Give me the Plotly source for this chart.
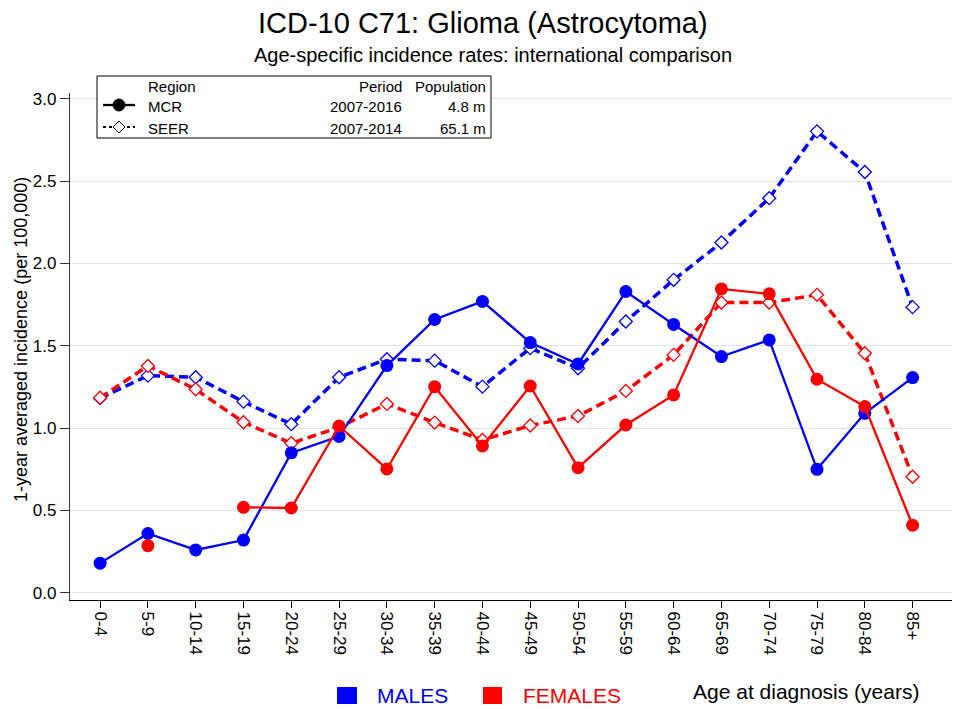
import plotly.graph_objects as go

age_groups = ["0-4", "5-9", "10-14", "15-19", "20-24", "25-29", "30-34", "35-39",
              "40-44", "45-49", "50-54", "55-59", "60-64", "65-69", "70-74",
              "75-79", "80-84", "85+"]

mcr_males = [0.18, 0.36, 0.26, 0.32, 0.85, 0.95, 1.38, 1.66, 1.77, 1.52, 1.39,
             1.83, 1.63, 1.435, 1.536, 0.75, 1.09, 1.307]
mcr_females = [None, 0.286, None, 0.519, 0.515, 1.013, 0.752, 1.252, 0.892, 1.256,
               0.76, 1.019, 1.202, 1.846, 1.816, 1.297, 1.131, 0.41]
seer_males = [1.182, 1.319, 1.309, 1.161, 1.024, 1.309, 1.419, 1.41, 1.252, 1.486,
              1.364, 1.648, 1.901, 2.128, 2.397, 2.803, 2.556, 1.735]
seer_females = [1.185, 1.378, 1.236, 1.036, 0.908, 1.005, 1.147, 1.034, 0.928, 1.016,
                1.074, 1.226, 1.445, 1.763, 1.763, 1.81, 1.455, 0.705]

y_ticks = [0.0, 0.5, 1.0, 1.5, 2.0, 2.5, 3.0]

legend_rows = [("MCR", "2007-2016", "4.8 m"), ("SEER", "2007-2014", "65.1 m")]

BLUE = "#0000ff"
RED = "#ff0000"
FONT = "Liberation Sans"

x_idx = list(range(len(age_groups)))

fig = go.Figure()

for vals, col in [(seer_males, BLUE), (seer_females, RED)]:
    fig.add_trace(go.Scatter(
        x=x_idx, y=vals, mode="lines+markers",
        line=dict(color=col, width=3.5, dash="9px,5px"),
        marker=dict(symbol="diamond", size=10, color="white",
                    line=dict(color=col, width=1.3)),
        showlegend=False, hoverinfo="skip"))

for vals, col in [(mcr_males, BLUE), (mcr_females, RED)]:
    fig.add_trace(go.Scatter(
        x=x_idx, y=vals, mode="lines+markers",
        line=dict(color=col, width=2.3),
        marker=dict(symbol="circle", size=13, color=col),
        connectgaps=False, showlegend=False, hoverinfo="skip"))

shapes = []
annotations = []

# page body has an 8px margin; the figure is sized so the plot area lands
# on these screen pixels
OFF = 8
L, R, T, B = 70, 958, 93, 600


def pxx(p):
    return (p - L) / (R - L)


def pxy(p):
    return (B - p) / (B - T)


# Legend box (top-left)
shapes.append(dict(type="rect", xref="paper", yref="paper",
                   x0=pxx(97), x1=pxx(491), y0=pxy(138), y1=pxy(76),
                   line=dict(color="black", width=1), fillcolor="white"))
shapes.append(dict(type="line", xref="paper", yref="paper",
                   x0=pxx(103), x1=pxx(135), y0=pxy(105), y1=pxy(105),
                   line=dict(color="black", width=2.3)))
shapes.append(dict(type="circle", xref="paper", yref="paper",
                   x0=pxx(113), x1=pxx(125), y0=pxy(111), y1=pxy(99),
                   line=dict(color="black", width=1), fillcolor="black"))
shapes.append(dict(type="line", xref="paper", yref="paper",
                   x0=pxx(103), x1=pxx(135), y0=pxy(127), y1=pxy(127),
                   line=dict(color="black", width=2, dash="dot")))
shapes.append(dict(type="path", xref="paper", yref="paper",
                   path="M {} {} L {} {} L {} {} L {} {} Z".format(
                       pxx(119), pxy(121), pxx(125), pxy(127),
                       pxx(119), pxy(133), pxx(113), pxy(127)),
                   line=dict(color="black", width=1), fillcolor="white"))

lf = dict(family=FONT, size=15, color="black")
annotations.append(dict(xref="paper", yref="paper", x=pxx(146), y=pxy(87),
                        text="Region", showarrow=False, xanchor="left", yanchor="middle", font=lf))
annotations.append(dict(xref="paper", yref="paper", x=pxx(404), y=pxy(87),
                        text="Period", showarrow=False, xanchor="right", yanchor="middle", font=lf))
annotations.append(dict(xref="paper", yref="paper", x=pxx(488), y=pxy(87),
                        text="Population", showarrow=False, xanchor="right", yanchor="middle", font=lf))
for i, (reg, per, pop) in enumerate(legend_rows):
    yy = pxy(106 + 22 * i)
    annotations.append(dict(xref="paper", yref="paper", x=pxx(146), y=yy, text=reg,
                            showarrow=False, xanchor="left", yanchor="middle", font=lf))
    annotations.append(dict(xref="paper", yref="paper", x=pxx(404), y=yy, text=per,
                            showarrow=False, xanchor="right", yanchor="middle", font=lf))
    annotations.append(dict(xref="paper", yref="paper", x=pxx(488), y=yy, text=pop,
                            showarrow=False, xanchor="right", yanchor="middle", font=lf))

# Bottom legend
shapes.append(dict(type="rect", xref="paper", yref="paper",
                   x0=pxx(337), x1=pxx(357), y0=pxy(704), y1=pxy(687),
                   line=dict(width=0), fillcolor=BLUE))
shapes.append(dict(type="rect", xref="paper", yref="paper",
                   x0=pxx(483), x1=pxx(502), y0=pxy(704), y1=pxy(687),
                   line=dict(width=0), fillcolor=RED))
annotations.append(dict(xref="paper", yref="paper", x=pxx(375), y=pxy(695), text="MALES",
                        showarrow=False, xanchor="left", yanchor="middle",
                        font=dict(family=FONT, size=21, color=BLUE)))
annotations.append(dict(xref="paper", yref="paper", x=pxx(521), y=pxy(695), text="FEMALES",
                        showarrow=False, xanchor="left", yanchor="middle",
                        font=dict(family=FONT, size=21, color=RED)))
annotations.append(dict(xref="paper", yref="paper", x=pxx(921), y=pxy(691),
                        text="Age at diagnosis (years)", showarrow=False,
                        xanchor="right", yanchor="middle",
                        font=dict(family=FONT, size=21, color="black")))

# Titles
annotations.append(dict(xref="paper", yref="paper", x=pxx(483), y=pxy(23),
                        text="ICD-10 C71: Glioma (Astrocytoma)", showarrow=False,
                        xanchor="center", yanchor="middle",
                        font=dict(family=FONT, size=29, color="black")))
annotations.append(dict(xref="paper", yref="paper", x=pxx(493), y=pxy(55),
                        text="Age-specific incidence rates: international comparison",
                        showarrow=False, xanchor="center", yanchor="middle",
                        font=dict(family=FONT, size=20, color="black")))
annotations.append(dict(xref="paper", yref="paper", x=pxx(21), y=pxy(340),
                        text="1-year averaged incidence (per 100,000)", showarrow=False,
                        textangle=-90, xanchor="center", yanchor="middle",
                        font=dict(family=FONT, size=18, color="black")))

fig.update_layout(
    width=960 - OFF, height=709 - OFF,
    margin=dict(l=L - OFF, r=960 - R, t=T - OFF, b=709 - B, autoexpand=False),
    paper_bgcolor="white", plot_bgcolor="white",
    font=dict(family=FONT, size=16, color="black"),
    shapes=shapes, annotations=annotations,
    xaxis=dict(range=[-0.63, 17.95], tickmode="array", tickvals=x_idx,
               ticktext=age_groups, tickangle=90, showgrid=False, zeroline=False,
               showline=True, linecolor="black", linewidth=1.3,
               ticks="outside", ticklen=7, tickcolor="black",
               tickfont=dict(family=FONT, size=17)),
    yaxis=dict(range=[-0.044, 3.036], tickmode="array", tickvals=y_ticks,
               ticktext=["%.1f" % v for v in y_ticks], showgrid=True,
               gridcolor="#e3e3e3", gridwidth=1, zeroline=False,
               showline=True, linecolor="#333333", linewidth=1.3,
               ticks="outside", ticklen=9, tickcolor="#333333",
               tickfont=dict(family=FONT, size=17)),
)

fig.write_html("out.html")
